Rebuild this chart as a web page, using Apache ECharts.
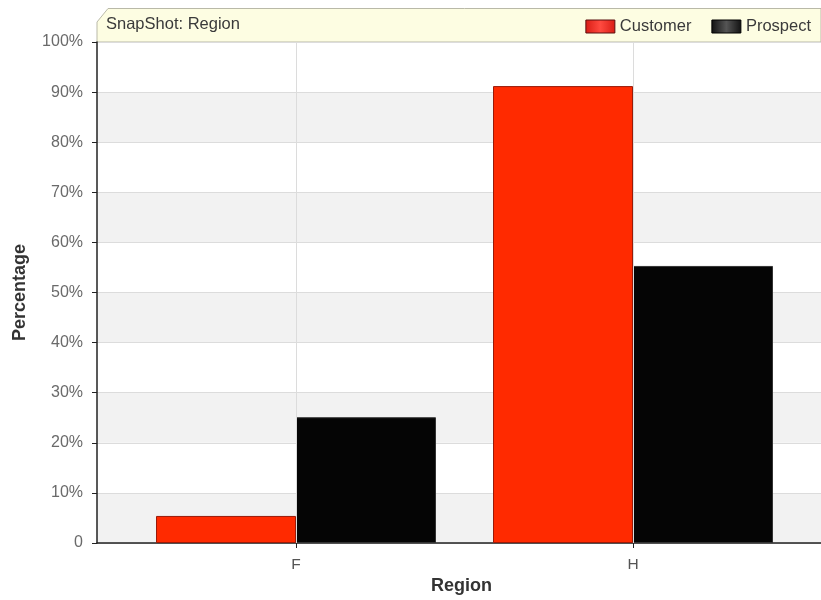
<!DOCTYPE html>
<html>
<head>
<meta charset="utf-8">
<script src="https://cdn.jsdelivr.net/npm/echarts@6/dist/echarts.min.js"></script>
<style>
  html, body { margin: 0; padding: 0; background: #fff; }
  #chart { width: 821px; height: 600px; }
</style>
</head>
<body>
<div id="chart"></div>
<script>
// Region snapshot: share of customers vs prospects per region
const categories = ['F', 'H'];
const customerValues = [5.4, 91.2];
const prospectValues = [25.1, 55.3];
const seriesNames = ['Customer', 'Prospect'];
const titleText = 'SnapShot: Region';
const xAxisName = 'Region';
const yAxisName = 'Percentage';

const FONT = 'Arial, "Liberation Sans", sans-serif';
const chart = echarts.init(document.getElementById('chart'), null, { renderer: 'canvas' });

const TOP = 42, BOTTOM = 57;

const option = {
  animation: false,
  textStyle: { fontFamily: FONT },
  graphic: [
    {
      type: 'polygon',
      z: -1,
      shape: { points: [[97, 42], [97, 22], [108, 8.5], [821, 8.5], [821, 42]] },
      style: { fill: '#fdfde2', stroke: '#b9b9a8', lineWidth: 1 }
    },
    {
      type: 'line',
      z: 0,
      shape: { x1: 97, y1: 42.5, x2: 821, y2: 42.5 },
      style: { stroke: '#dcdcd0', lineWidth: 1 }
    },
    {
      type: 'text',
      left: 106,
      top: 16,
      style: { text: titleText, fontSize: 16.5, fill: '#3a3a3a', fontFamily: FONT }
    },
    {
      type: 'text',
      left: 431,
      top: 577,
      style: { text: xAxisName, fontSize: 18, fontWeight: 'bold', fill: '#333', fontFamily: FONT }
    }
  ],
  legend: {
    right: 5,
    top: 13,
    itemWidth: 29,
    itemHeight: 13,
    itemGap: 20,
    icon: 'rect',
    textStyle: { fontSize: 16.5, color: '#3a3a3a', fontFamily: FONT },
    data: [
      {
        name: seriesNames[0],
        itemStyle: {
          color: new echarts.graphic.LinearGradient(0, 0, 1, 0, [
            { offset: 0, color: '#d81c14' }, { offset: 0.5, color: '#ff4a40' }, { offset: 1, color: '#d81c14' }
          ]),
          borderColor: '#5a1010', borderWidth: 1
        }
      },
      {
        name: seriesNames[1],
        itemStyle: {
          color: new echarts.graphic.LinearGradient(0, 0, 1, 0, [
            { offset: 0, color: '#111' }, { offset: 0.5, color: '#555' }, { offset: 1, color: '#111' }
          ]),
          borderColor: '#000', borderWidth: 1
        }
      }
    ]
  },
  grid: [
    // background frame: bands, horizontal lines, axis lines
    { left: 97, right: 0, top: TOP, bottom: BOTTOM },
    // bar grid
    { left: 127.5, right: 19.5, top: TOP, bottom: BOTTOM }
  ],
  xAxis: [
    {
      gridIndex: 0, type: 'value', min: 0, max: 1,
      axisLine: { show: true, onZero: false, lineStyle: { color: '#222', width: 1.5 } },
      axisTick: { show: false }, axisLabel: { show: false }, splitLine: { show: false }
    },
    {
      gridIndex: 1, type: 'category', data: categories,
      axisLine: { show: false },
      axisTick: { show: true, alignWithLabel: true, length: 5, lineStyle: { color: '#222' } },
      axisLabel: { fontSize: 15.5, color: '#555', margin: 14, fontFamily: FONT },
      splitLine: { show: false }
    }
  ],
  yAxis: [
    {
      gridIndex: 0, type: 'value', min: 0, max: 100, interval: 10,
      name: yAxisName, nameLocation: 'middle', nameGap: 68, nameRotate: 90,
      nameTextStyle: { fontSize: 18, fontWeight: 'bold', color: '#333', fontFamily: FONT },
      axisLine: { show: true, lineStyle: { color: '#222', width: 1.5 } },
      axisTick: { show: true, length: 5, lineStyle: { color: '#222' } },
      axisLabel: {
        fontSize: 16, color: '#6a6a6a', margin: 14, fontFamily: FONT,
        formatter: v => (v === 0 ? '0' : v + '%')
      },
      splitLine: { show: true, lineStyle: { color: '#dcdcdc', width: 1 } },
      splitArea: { show: true, areaStyle: { color: ['#f2f2f2', '#ffffff'] } }
    },
    {
      gridIndex: 1, type: 'value', min: 0, max: 100, interval: 10,
      axisLine: { show: false }, axisTick: { show: false }, axisLabel: { show: false },
      splitLine: { show: false }
    }
  ],
  series: [
    {
      // vertical guide lines through each category centre
      type: 'line',
      xAxisIndex: 1, yAxisIndex: 1,
      z: 1,
      data: [0, 0],
      symbol: 'none',
      silent: true,
      lineStyle: { opacity: 0 },
      markLine: {
        silent: true, symbol: 'none', label: { show: false },
        lineStyle: { color: '#dcdcdc', type: 'solid', width: 1 },
        data: categories.map(c => ({ xAxis: c }))
      }
    },
    {
      name: seriesNames[0],
      type: 'bar',
      xAxisIndex: 1, yAxisIndex: 1,
      z: 2,
      data: customerValues,
      barWidth: 140,
      barGap: '0%',
      itemStyle: { color: '#ff2a00', borderColor: '#9a1a08', borderWidth: 1 }
    },
    {
      name: seriesNames[1],
      type: 'bar',
      xAxisIndex: 1, yAxisIndex: 1,
      z: 2,
      data: prospectValues,
      barWidth: 140,
      barGap: '0%',
      itemStyle: { color: '#050505', borderColor: '#333', borderWidth: 1 }
    }
  ]
};

chart.setOption(option);
</script>
</body>
</html>
